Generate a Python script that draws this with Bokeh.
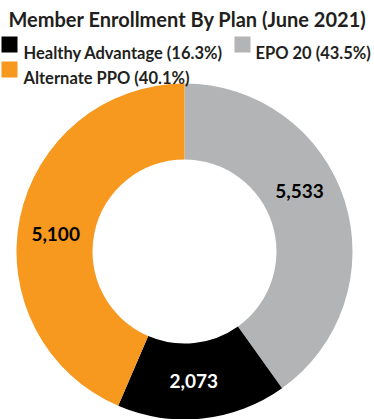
import math
from bokeh.plotting import figure
from bokeh.models import Range1d
from bokeh.core.properties import value
from bokeh.embed import file_html
from bokeh.resources import INLINE

W, H = 374, 419

# data (slice order: clockwise from 12 o'clock)
plans = ["EPO 20", "Healthy Advantage", "Alternate PPO"]
enrollment = [5533, 2073, 5100]          # value labels shown on the slices
legend_pct = [43.5, 16.3, 40.1]          # percentages shown in the legend
slice_share = [40.1, 16.3, 43.5]         # slice sizes as drawn in the reference (%)
colors = ["#b3b4b6", "#000000", "#f7981f"]
label_colors = ["#000000", "#ffffff", "#000000"]
title_text = "Member Enrollment By Plan (June 2021)"
legend_order = ["Healthy Advantage", "EPO 20", "Alternate PPO"]

p = figure(width=W, height=H, output_backend="svg", toolbar_location=None,
           x_range=Range1d(0, W), y_range=Range1d(0, H),
           min_border=0, min_border_left=0, min_border_right=0,
           min_border_top=0, min_border_bottom=0)
p.axis.visible = False
p.grid.visible = False
p.outline_line_color = None
p.background_fill_color = "white"
p.border_fill_color = "white"

FONT = value("Lato")
TXT = "#231f20"

cx, cy = 184, H - 251
r_in, r_out = 92, 168
label_nudge = [-10, 2, -4]   # degrees

total = sum(slice_share)
cum = 0.0
starts, ends, lx, ly = [], [], [], []
for v, nd in zip(slice_share, label_nudge):
    a0 = cum / total * 2 * math.pi
    cum += v
    a1 = cum / total * 2 * math.pi
    starts.append(math.pi / 2 - a1)
    ends.append(math.pi / 2 - a0)
    mid = (a0 + a1) / 2 + math.radians(nd)
    rl = 130
    lx.append(cx + rl * math.sin(mid))
    ly.append(cy + rl * math.cos(mid))

p.annular_wedge(x=[cx] * 3, y=[cy] * 3, inner_radius=r_in, outer_radius=r_out,
                start_angle=starts, end_angle=ends, fill_color=colors,
                line_color=None)

p.text(x=lx, y=ly, text=[f"{v:,}" for v in enrollment], text_color=label_colors,
       text_font=FONT, text_font_style="bold", text_font_size="19px",
       text_align="center", text_baseline="middle")

# title
p.text(x=[8], y=[H - 18], text=[title_text], text_font=FONT, text_font_style="bold",
       text_font_size="20px", text_color=TXT, text_baseline="alphabetic")

# legend: (square left, square top, text x, baseline) in pixels from top-left
leg_pos = [(1, 36, 23, 52), (234, 36, 255, 52), (1, 61, 23, 77)]
for name, (sx, sy, tx, by) in zip(legend_order, leg_pos):
    i = plans.index(name)
    p.rect(x=[sx + 8], y=[H - sy - 8], width=16, height=16, fill_color=colors[i],
           line_color=None)
    p.text(x=[tx], y=[H - by], text=[f"{name} ({legend_pct[i]:.1f}%)"], text_font=FONT,
           text_font_style="bold", text_font_size="16.5px", text_color=TXT,
           text_baseline="alphabetic")

open("out.html", "w").write(file_html(p, INLINE))
